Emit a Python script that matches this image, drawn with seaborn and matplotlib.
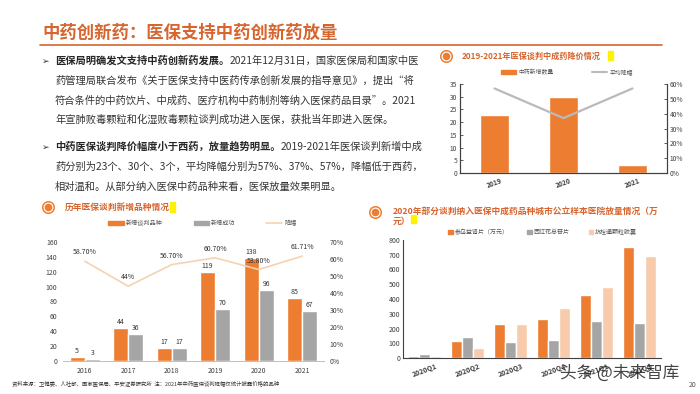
import numpy as np
import pandas as pd
import matplotlib
matplotlib.use("Agg")
import matplotlib.pyplot as plt
import seaborn as sns
from matplotlib.patches import Patch, Rectangle
from matplotlib.lines import Line2D
from matplotlib.ticker import PercentFormatter, FixedLocator

# ---- data ----
years_a = ['2019', '2020', '2021']
new_tcm = [23, 30, 3]
avg_cut = [0.57, 0.37, 0.57]

years_b = ['2016', '2017', '2018', '2019', '2020', '2021']
nego_new = [5, 44, 17, 119, 138, 85]
nego_ok = [3, 36, 17, 70, 96, 67]
cut_b = [0.587, 0.44, 0.567, 0.607, 0.538, 0.6171]
cut_b_labels = ['58.70%', '44%', '56.70%', '60.70%', '53.80%', '61.71%']

quarters = ['2020Q1', '2020Q2', '2020Q3', '2020Q4', '2021Q1', '2021Q2']
drug_a = [13, 113, 230, 267, 429, 750]
drug_b = [25, 140, 108, 122, 250, 240]
drug_c = [13, 65, 230, 341, 479, 692]
drug_names = ['参乌益肾片（万元）', '西红花总苷片', '抗栓通颗粒胶囊']

ORANGE = '#ED7D31'
GRAY = '#A5A5A5'
PEACH = '#F8CBAD'
TITLE_C = '#D7652E'
AXC = '#404040'

sns.set_theme(style='white')
plt.rcParams['font.family'] = ['Noto Sans CJK SC', 'DejaVu Sans']
plt.rcParams['axes.unicode_minus'] = False

W, H = 700, 394
fig = plt.figure(figsize=(7, 3.94), dpi=100)


def fa(x0, y0, x1, y1):
    # pixel box -> figure fraction rect
    return [x0 / W, 1 - y1 / H, (x1 - x0) / W, (y1 - y0) / H]


# background layer in pixel coords
bg = fig.add_axes([0, 0, 1, 1])
bg.set_xlim(0, W)
bg.set_ylim(H, 0)
bg.axis('off')

bg.text(42, 33, '中药创新药：医保支持中药创新药放量', fontsize=12.5, fontweight='bold',
        color=TITLE_C, va='center', ha='left')
bg.plot([40, 662], [45, 45], color=TITLE_C, lw=1.2)

body = [
    ('医保局明确发文支持中药创新药发展。', '2021年12月31日，国家医保局和国家中医'),
    ('', '药管理局联合发布《关于医保支持中医药传承创新发展的指导意见》，提出“将'),
    ('', '符合条件的中药饮片、中成药、医疗机构中药制剂等纳入医保药品目录”。2021'),
    ('', '年宣肺败毒颗粒和化湿败毒颗粒谈判成功进入医保，获批当年即进入医保。'),
    ('中药医保谈判降价幅度小于西药，放量趋势明显。', '2019-2021年医保谈判新增中成'),
    ('', '药分别为23个、30个、3个，平均降幅分别为57%、37%、57%，降幅低于西药，'),
    ('', '相对温和。从部分纳入医保中药品种来看，医保放量效果明显。'),
]
line_y = [61, 81, 101, 120, 147, 167, 187]
FS = 7.4
for (b, n), y in zip(body, line_y):
    if b:
        bg.text(42, y, '➢', fontsize=6.5, color='#333333', va='center', ha='left',
                family=['DejaVu Sans'])
        tb = bg.text(55, y, b, fontsize=FS, fontweight='bold', color='#262626',
                     va='center', ha='left')
        bg.annotate(n, xy=(1, 0.5), xycoords=tb, va='center', ha='left',
                    fontsize=FS, color='#333333')
    else:
        bg.text(55, y, n, fontsize=FS, color='#333333', va='center', ha='left')


def icon(x, y):
    bg.scatter([x], [y], s=70, color=ORANGE, zorder=3)
    bg.scatter([x], [y], s=38, color='white', zorder=4)
    bg.scatter([x], [y], s=20, color=ORANGE, zorder=5)


icon(446, 56)
bg.text(462, 56, '2019-2021年医保谈判中成药降价情况', fontsize=5.9, fontweight='bold',
        color=TITLE_C, va='center', ha='left')
bg.add_patch(Rectangle((608, 51), 5, 9, color='#FFF200'))

icon(48, 207)
bg.text(65, 207, '历年医保谈判新增品种情况', fontsize=6.3, fontweight='bold',
        color=TITLE_C, va='center', ha='left')
bg.add_patch(Rectangle((170, 202), 5, 10, color='#FFF200'))

icon(375, 212)
bg.text(393, 211, '2020年部分谈判纳入医保中成药品种城市公立样本医院放量情况（万',
        fontsize=6.3, fontweight='bold', color=TITLE_C, va='center', ha='left')
bg.text(393, 221, '元）', fontsize=6.3, fontweight='bold', color=TITLE_C,
        va='center', ha='left')
bg.add_patch(Rectangle((411, 215), 5, 8, color='#FFF200'))

bg.text(12, 383, '资料来源：卫健委、人社部、国家医保局、平安证券研究所  注：2021年中药医保谈判降幅仅统计披露价格的品种',
        fontsize=3.9, color='#333333', va='center', ha='left')
bg.text(696, 385, '20', fontsize=5, color='#555555', va='center', ha='right')


def style_ticks(ax, size=5):
    ax.tick_params(axis='both', labelsize=size, colors=AXC, length=2, width=0.6,
                   pad=2, direction='in')


# ---- top right: bars + line ----
ax1 = fig.add_axes(fa(460, 84, 667, 173))
sns.barplot(x=years_a, y=new_tcm, color=ORANGE, width=0.43, saturation=1, ax=ax1)
ax1.set_ylim(0, 35)
ax1.set_yticks(range(0, 36, 5))
ax1b = ax1.twinx()
sns.lineplot(x=years_a, y=avg_cut, color='#BABABA', lw=1.6, sort=False, ax=ax1b)
ax1b.set_ylim(0, 0.6)
ax1b.set_yticks(np.arange(0, 0.61, 0.1))
ax1b.yaxis.set_major_formatter(PercentFormatter(1.0, decimals=0))
for a in (ax1, ax1b):
    style_ticks(a, 4.8)
    a.spines['top'].set_visible(False)
    for s in ('left', 'right', 'bottom'):
        a.spines[s].set_color(AXC)
        a.spines[s].set_linewidth(0.8)
    a.set_xlabel('')
    a.set_ylabel('')
ax1.set_xlim(-0.5, 2.5)
ax1.tick_params(axis='x', length=0, pad=3)
for t in ax1.get_xticklabels():
    t.set_rotation(20)
    t.set_fontweight('bold')
ax1.xaxis.set_minor_locator(FixedLocator([0.5, 1.5]))
ax1.tick_params(axis='x', which='minor', length=2, width=0.6, color=AXC, direction='in')
fig.legend(handles=[Patch(color=ORANGE, label='中药新增数量'),
                    Line2D([], [], color='#BABABA', lw=1.5, label='平均降幅')],
           loc='center left', bbox_to_anchor=(496 / W, 1 - 72 / H), ncol=2,
           frameon=False, fontsize=4.2, handlelength=2.6, handleheight=0.9,
           handletextpad=0.4, columnspacing=6.5, labelcolor='#555555')

# ---- bottom left: grouped bars + line ----
df_b = pd.DataFrame({
    'year': years_b * 2,
    'value': nego_new + nego_ok,
    'kind': ['新增谈判品种'] * 6 + ['新增成功'] * 6,
})
ax2 = fig.add_axes(fa(63, 242, 324, 361))
sns.barplot(data=df_b, x='year', y='value', hue='kind', palette=[ORANGE, GRAY],
            width=0.7, saturation=1, legend=False, ax=ax2)
for c in ax2.containers:
    ax2.bar_label(c, fmt='%g', padding=1.5, fontsize=5, color='#333333')
ax2.set_ylim(0, 160)
ax2.set_yticks(range(0, 161, 20))
ax2b = ax2.twinx()
sns.lineplot(x=years_b, y=cut_b, color='#F6D2B0', lw=1.2, sort=False, ax=ax2b)
for i, (v, lbl) in enumerate(zip(cut_b, cut_b_labels)):
    ax2b.annotate(lbl, (i, v), xytext=(0, 6.5), textcoords='offset points',
                  ha='center', va='center', fontsize=5, color='#333333')
ax2b.set_ylim(0, 0.7)
ax2b.set_yticks(np.arange(0, 0.71, 0.1))
ax2b.yaxis.set_major_formatter(PercentFormatter(1.0, decimals=0))
for a in (ax2, ax2b):
    style_ticks(a, 5)
    a.tick_params(length=0, pad=4)
    for s in ('left', 'right', 'top'):
        a.spines[s].set_visible(False)
    a.spines['bottom'].set_color('#BFBFBF')
    a.spines['bottom'].set_linewidth(0.6)
    a.set_xlabel('')
    a.set_ylabel('')
ax2.set_xlim(-0.5, 5.5)
fig.legend(handles=[Patch(color=ORANGE, label='新增谈判品种'),
                    Patch(color=GRAY, label='新增成功'),
                    Line2D([], [], color='#F6D2B0', lw=1.2, label='降幅')],
           loc='center left', bbox_to_anchor=(103 / W, 1 - 223 / H), ncol=3,
           frameon=False, fontsize=4.4, handlelength=2.6, handleheight=0.7,
           handletextpad=0.3, columnspacing=5.0, labelcolor='#555555')

# ---- bottom right: three-series grouped bars ----
df_c = pd.DataFrame({
    'quarter': quarters * 3,
    'value': drug_a + drug_b + drug_c,
    'drug': [drug_names[0]] * 6 + [drug_names[1]] * 6 + [drug_names[2]] * 6,
})
ax3 = fig.add_axes(fa(403, 240, 661, 358))
sns.barplot(data=df_c, x='quarter', y='value', hue='drug', palette=[ORANGE, GRAY, PEACH],
            width=0.78, saturation=1, legend=False, ax=ax3)
ax3.set_ylim(0, 800)
ax3.set_yticks(range(0, 801, 100))
style_ticks(ax3, 5)
ax3.set_xlim(-0.5, 5.5)
ax3.tick_params(axis='x', length=0, pad=3)
ax3.xaxis.set_minor_locator(FixedLocator([0.5, 1.5, 2.5, 3.5, 4.5]))
ax3.tick_params(axis='x', which='minor', length=2, width=0.6, color=AXC, direction='out')
for t in ax3.get_xticklabels():
    t.set_rotation(20)
    t.set_fontweight('bold')
for s in ('right', 'top'):
    ax3.spines[s].set_visible(False)
for s in ('left', 'bottom'):
    ax3.spines[s].set_color(AXC)
    ax3.spines[s].set_linewidth(0.8)
ax3.set_xlabel('')
ax3.set_ylabel('')
fig.legend(handles=[Patch(color=c, label=n) for c, n in zip([ORANGE, GRAY, PEACH], drug_names)],
           loc='center left', bbox_to_anchor=(443 / W, 1 - 232 / H), ncol=3,
           frameon=False, fontsize=4.3, handlelength=0.7, handleheight=0.7,
           handletextpad=0.3, columnspacing=3.2, labelcolor='#555555')

# watermark on top
fig.text(560 / W, 1 - 373 / H, '头条 @未来智库', fontsize=12, color='#222222',
         alpha=0.85, va='center', ha='left', zorder=10)

fig.savefig('out.png', dpi=100)
